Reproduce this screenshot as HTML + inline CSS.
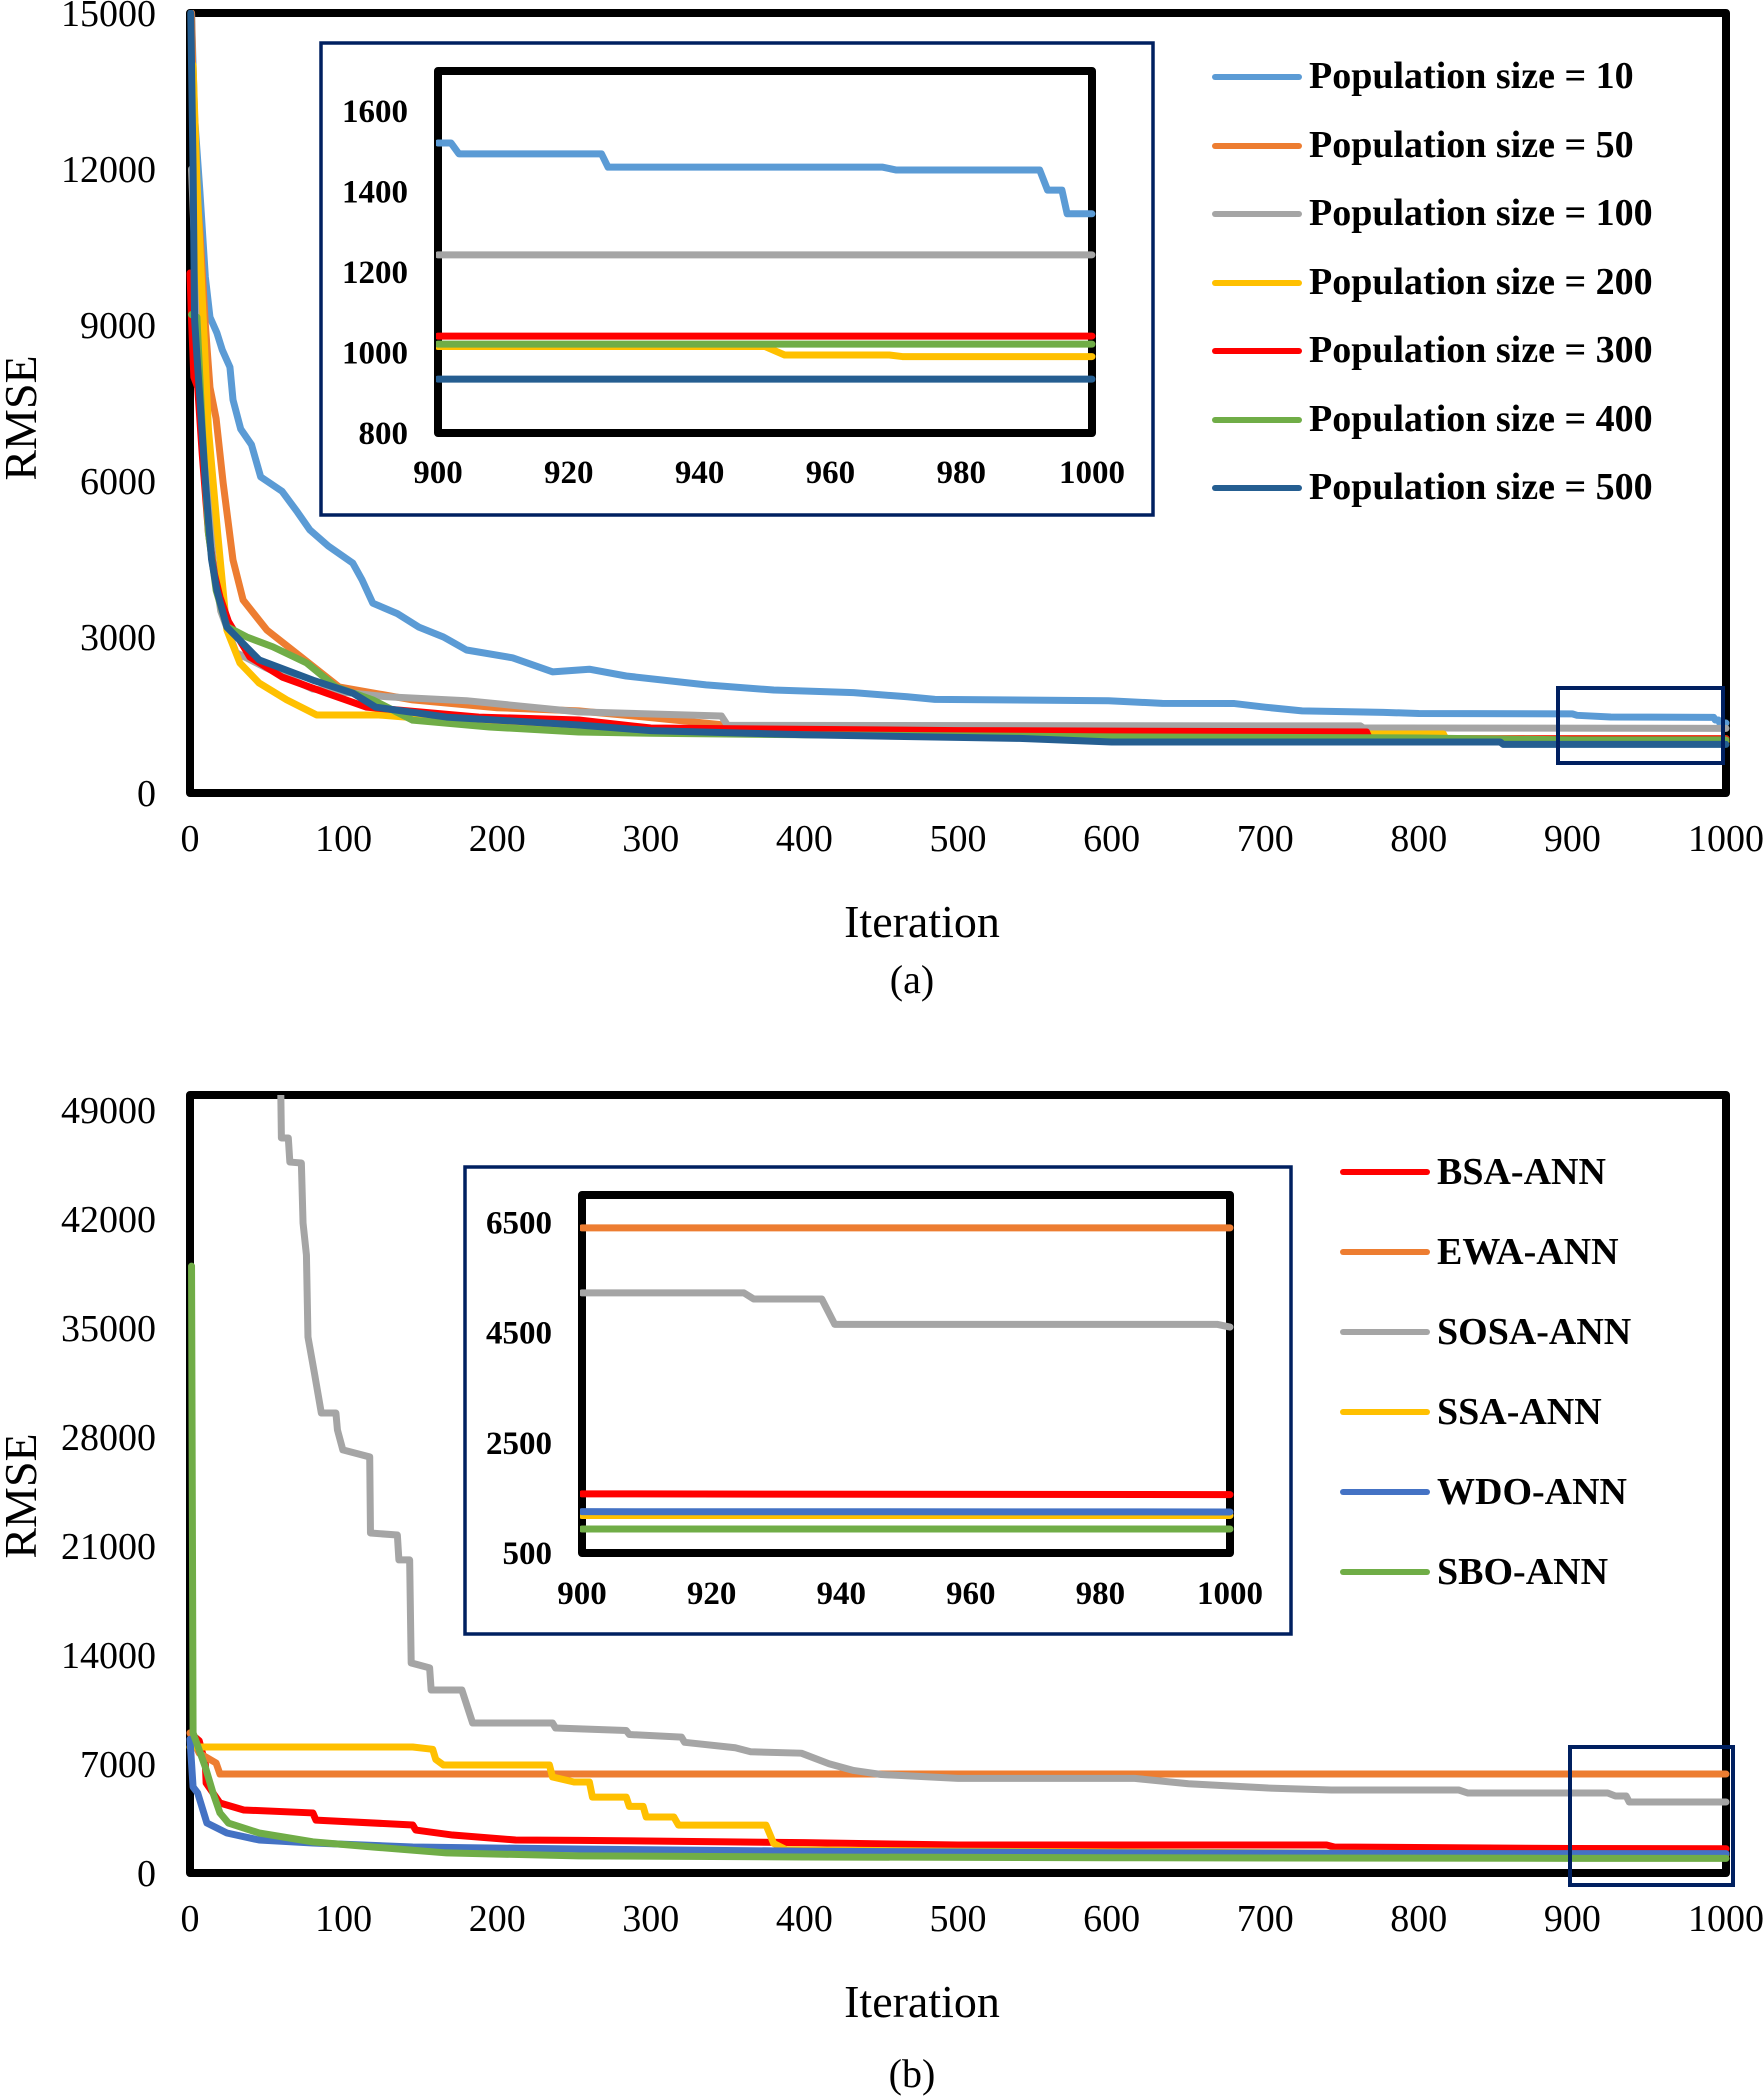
<!DOCTYPE html>
<html>
<head>
<meta charset="utf-8">
<style>
html,body{margin:0;padding:0;background:#fff;}
svg{display:block;}
text{font-family:"Liberation Serif","Times New Roman",serif;fill:#000;}
.tk{font-size:38px;}
.ib{font-size:33px;font-weight:bold;}
.lg{font-size:38px;font-weight:bold;}
.ax{font-size:46px;}
.cap{font-size:40px;}
.s{fill:none;stroke-width:7;stroke-linejoin:round;stroke-linecap:round;vector-effect:non-scaling-stroke;}
</style>
</head>
<body>
<svg width="1764" height="2096" viewBox="0 0 1764 2096" xmlns="http://www.w3.org/2000/svg">
<defs>
<clipPath id="ca"><rect x="186" y="10" width="1546" height="787"/></clipPath>
<clipPath id="cb"><rect x="186" y="1095" width="1546" height="782"/></clipPath>
<clipPath id="cia"><rect x="436" y="69" width="660" height="366"/></clipPath>
<clipPath id="cib"><rect x="580" y="1193" width="654" height="362"/></clipPath>
</defs>
<rect width="1764" height="2096" fill="#fff"/>

<!-- ================= CHART (a) ================= -->
<rect x="190" y="13" width="1536" height="780" fill="none" stroke="#000" stroke-width="8" stroke-linejoin="round"/>

<g clip-path="url(#ca)">
<g transform="translate(190 793) scale(1.536 -0.052)">
<polyline class="s" stroke="#5B9BD5" points="1,15000 3,13000 6.5,11540 10,9920 13,9150 17.5,8850 21,8520 26,8190 28,7560 33,7000 40,6700 46,6080 50,6000 60,5800 70,5400 78,5060 90,4750 106,4420 112,4100 119,3650 135,3450 149,3190 165,3000 180,2750 210,2600 236,2330 260,2380 284,2250 336,2080 380,1980 432,1930 467,1850 485,1800 598,1775 633,1724 680,1720 700,1650 724,1580 777,1550 800,1530 900,1521 903,1494 925,1461 992,1454 993,1404 995,1404 996,1345 1000,1345"/>
<polyline class="s" stroke="#ED7D31" points="1,15000 3,12200 6.5,10770 10,9000 13,7800 17,7200 21.6,5960 28,4480 34.6,3710 50,3135 73,2600 97,2040 145,1790 200,1640 253,1580 300,1450 350,1300 500,1200 700,1100 780,1045 1000,1045"/>
<polyline class="s" stroke="#A5A5A5" points="1,12000 5,9000 10,6500 15,4500 20,3500 30,2700 50,2400 80,2000 128,1850 180,1775 253,1560 346,1480 350,1300 762,1290 764,1250 1000,1243"/>
<polyline class="s" stroke="#FFC000" points="2,14000 4.5,11790 8,9500 12,7000 18,5000 24,3135 32.5,2500 45,2115 63,1790 82.5,1500 123,1500 188,1346 253,1270 300,1210 400,1160 600,1140 816,1135 818,1015 950,1015 952,994 970,994 972,990 1000,990"/>
<polyline class="s" stroke="#FF0000" points="0,10000 1,9100 2.5,8000 5,7800 8,6500 12,5000 16,4200 19.5,3770 25,3300 39,2615 60,2230 89,1920 115,1650 188,1460 253,1404 300,1250 500,1200 766,1173 768,1041 1000,1041"/>
<polyline class="s" stroke="#70AD47" points="1,9200 4.5,9150 8,7000 12,5000 17,3900 24,3200 37,3000 54,2810 76,2500 95,2040 119,1790 145,1400 195,1270 253,1173 300,1150 400,1120 600,1080 800,1058 900,1021 1000,1021"/>
<polyline class="s" stroke="#255E91" points="0.5,15000 2,12000 3,9100 5,8190 6.5,7560 10,6000 14,4500 17.5,3900 24,3190 45,2560 80,2170 106,1920 121,1650 167,1460 253,1308 300,1200 400,1120 540,1050 600,981 853,981 855,934 1000,934"/>
</g>
</g>

<rect x="1558" y="688" width="165" height="75" fill="none" stroke="#002060" stroke-width="4"/>

<!-- y ticks (a) -->
<g class="tk" text-anchor="end">
<text x="156" y="806">0</text>
<text x="156" y="650">3000</text>
<text x="156" y="494">6000</text>
<text x="156" y="338">9000</text>
<text x="156" y="182">12000</text>
<text x="156" y="26">15000</text>
</g>
<!-- x ticks (a) -->
<g class="tk" text-anchor="middle">
<text x="190" y="851">0</text>
<text x="343.6" y="851">100</text>
<text x="497.2" y="851">200</text>
<text x="650.8" y="851">300</text>
<text x="804.4" y="851">400</text>
<text x="958" y="851">500</text>
<text x="1111.6" y="851">600</text>
<text x="1265.2" y="851">700</text>
<text x="1418.8" y="851">800</text>
<text x="1572.4" y="851">900</text>
<text x="1726" y="851">1000</text>
</g>
<text class="ax" x="922" y="937" text-anchor="middle">Iteration</text>
<text class="cap" x="912" y="993" text-anchor="middle">(a)</text>
<text class="ax" transform="translate(36 418) rotate(-90)" text-anchor="middle">RMSE</text>

<!-- inset (a) -->
<rect x="321" y="43" width="832" height="472" fill="#fff" stroke="#002060" stroke-width="3.5"/>
<rect x="438" y="71" width="654" height="362" fill="none" stroke="#000" stroke-width="8" stroke-linejoin="round"/>
<g clip-path="url(#cia)">
<g transform="translate(-5448 754.76) scale(6.54 -0.4022)">
<polyline class="s" stroke="#5B9BD5" points="900,1521 902,1521 903.2,1494 925,1494 926,1461 968,1461 970,1454 992,1454 993.2,1404 995.4,1404 996.2,1345 1000,1345"/>
<polyline class="s" stroke="#A5A5A5" points="900,1243 1000,1243"/>
<polyline class="s" stroke="#FFC000" points="900,1015 950,1015 953,994 969,994 971,990 1000,990"/>
<polyline class="s" stroke="#FF0000" points="900,1041 1000,1041"/>
<polyline class="s" stroke="#70AD47" points="900,1021 1000,1021"/>
<polyline class="s" stroke="#255E91" points="900,934 1000,934"/>
</g>
</g>
<g class="ib" text-anchor="end">
<text x="408" y="444">800</text>
<text x="408" y="363.6">1000</text>
<text x="408" y="283.1">1200</text>
<text x="408" y="202.7">1400</text>
<text x="408" y="122.2">1600</text>
</g>
<g class="ib" text-anchor="middle">
<text x="438" y="483">900</text>
<text x="568.8" y="483">920</text>
<text x="699.6" y="483">940</text>
<text x="830.4" y="483">960</text>
<text x="961.2" y="483">980</text>
<text x="1092" y="483">1000</text>
</g>

<!-- legend (a) -->
<g stroke-width="6" stroke-linecap="round">
<line x1="1215" y1="77" x2="1299" y2="77" stroke="#5B9BD5"/>
<line x1="1215" y1="146" x2="1299" y2="146" stroke="#ED7D31"/>
<line x1="1215" y1="214" x2="1299" y2="214" stroke="#A5A5A5"/>
<line x1="1215" y1="283" x2="1299" y2="283" stroke="#FFC000"/>
<line x1="1215" y1="351" x2="1299" y2="351" stroke="#FF0000"/>
<line x1="1215" y1="420" x2="1299" y2="420" stroke="#70AD47"/>
<line x1="1215" y1="488" x2="1299" y2="488" stroke="#255E91"/>
</g>
<g class="lg">
<text x="1309" y="88">Population size = 10</text>
<text x="1309" y="157">Population size = 50</text>
<text x="1309" y="225">Population size = 100</text>
<text x="1309" y="294">Population size = 200</text>
<text x="1309" y="362">Population size = 300</text>
<text x="1309" y="431">Population size = 400</text>
<text x="1309" y="499">Population size = 500</text>
</g>

<!-- ================= CHART (b) ================= -->
<rect x="190" y="1095" width="1536" height="778" fill="none" stroke="#000" stroke-width="8" stroke-linejoin="round"/>

<g clip-path="url(#cb)">
<g transform="translate(190 1873) scale(1.536 -0.01556)">
<polyline class="s" stroke="#FF0000" points="0,9000 6,8500 10,7000 10.5,5780 19.5,4500 35,4050 80,3860 82,3400 145,3085 147,2760 171,2440 212,2120 253,2100 400,1950 500,1800 740,1800 745,1670 900,1573 1000,1560"/>
<polyline class="s" stroke="#ED7D31" points="0,9000 6,7700 17,7070 19.5,6360 1000,6360"/>
<polyline class="s" stroke="#A5A5A5" points="59,51000 59.5,47240 64,47240 65,45690 72.5,45630 73.6,41770 75.8,39720 76.8,34450 81,32130 85.5,29560 95,29560 96,28470 99.5,27190 117,26740 117.5,21850 135,21720 136,20120 143,20120 144,13500 156,13180 157,11760 177,11760 184,9640 236,9640 238,9320 284,9160 286,8900 320,8730 322,8400 355,8050 365,7790 398,7700 416,7020 432,6590 450,6330 500,6080 615,6080 650,5735 702,5460 743,5334 826,5334 832,5140 923,5140 928,4950 935,4950 937,4563 1000,4563"/>
<polyline class="s" stroke="#FFC000" points="0,8100 145,8100 158,7950 160,7300 165,6940 234,6940 236,6170 250,5850 260,5850 262,4880 284,4880 286,4280 295,4280 297,3600 315,3600 318,3080 375,3080 380,1900 388,1500 500,1400 700,1300 900,1200 1000,1190"/>
<polyline class="s" stroke="#4472C4" points="0,8600 2,5530 5,5140 11,3210 24,2570 45,2120 80,1930 145,1670 253,1540 400,1400 600,1300 800,1250 1000,1245"/>
<polyline class="s" stroke="#70AD47" points="1,39000 2,9000 10,6800 15,5140 19.5,3860 25,3210 45,2570 80,2000 119,1670 167,1290 253,1100 400,1030 600,980 900,940 1000,936"/>
</g>
</g>

<rect x="1570" y="1747" width="163" height="138" fill="none" stroke="#002060" stroke-width="4"/>

<g class="tk" text-anchor="end">
<text x="156" y="1886">0</text>
<text x="156" y="1777">7000</text>
<text x="156" y="1668">14000</text>
<text x="156" y="1559">21000</text>
<text x="156" y="1450">28000</text>
<text x="156" y="1341">35000</text>
<text x="156" y="1232">42000</text>
<text x="156" y="1123">49000</text>
</g>
<g class="tk" text-anchor="middle">
<text x="190" y="1931">0</text>
<text x="343.6" y="1931">100</text>
<text x="497.2" y="1931">200</text>
<text x="650.8" y="1931">300</text>
<text x="804.4" y="1931">400</text>
<text x="958" y="1931">500</text>
<text x="1111.6" y="1931">600</text>
<text x="1265.2" y="1931">700</text>
<text x="1418.8" y="1931">800</text>
<text x="1572.4" y="1931">900</text>
<text x="1726" y="1931">1000</text>
</g>
<text class="ax" x="922" y="2017" text-anchor="middle">Iteration</text>
<text class="cap" x="912" y="2087" text-anchor="middle">(b)</text>
<text class="ax" transform="translate(36 1496) rotate(-90)" text-anchor="middle">RMSE</text>

<!-- inset (b) -->
<rect x="465" y="1167" width="826" height="467" fill="#fff" stroke="#002060" stroke-width="3.5"/>
<rect x="582" y="1195" width="648" height="358" fill="none" stroke="#000" stroke-width="8" stroke-linejoin="round"/>
<g clip-path="url(#cib)">
<g transform="translate(-5250 1580.55) scale(6.48 -0.0551)">
<polyline class="s" stroke="#FF0000" points="900,1573 1000,1560"/>
<polyline class="s" stroke="#ED7D31" points="900,6400 1000,6400"/>
<polyline class="s" stroke="#A5A5A5" points="900,5220 925,5220 926.5,5110 937,5110 939,4650 998,4650 1000,4600"/>
<polyline class="s" stroke="#FFC000" points="900,1180 1000,1180"/>
<polyline class="s" stroke="#4472C4" points="900,1250 1000,1245"/>
<polyline class="s" stroke="#70AD47" points="900,936 1000,936"/>
</g>
</g>
<g class="ib" text-anchor="end">
<text x="552" y="1564">500</text>
<text x="552" y="1453.8">2500</text>
<text x="552" y="1343.6">4500</text>
<text x="552" y="1233.4">6500</text>
</g>
<g class="ib" text-anchor="middle">
<text x="582" y="1604">900</text>
<text x="711.6" y="1604">920</text>
<text x="841.2" y="1604">940</text>
<text x="970.8" y="1604">960</text>
<text x="1100.4" y="1604">980</text>
<text x="1230" y="1604">1000</text>
</g>

<!-- legend (b) -->
<g stroke-width="6" stroke-linecap="round">
<line x1="1343" y1="1172" x2="1427" y2="1172" stroke="#FF0000"/>
<line x1="1343" y1="1252" x2="1427" y2="1252" stroke="#ED7D31"/>
<line x1="1343" y1="1332" x2="1427" y2="1332" stroke="#A5A5A5"/>
<line x1="1343" y1="1412" x2="1427" y2="1412" stroke="#FFC000"/>
<line x1="1343" y1="1492" x2="1427" y2="1492" stroke="#4472C4"/>
<line x1="1343" y1="1572" x2="1427" y2="1572" stroke="#70AD47"/>
</g>
<g class="lg">
<text x="1437" y="1184">BSA-ANN</text>
<text x="1437" y="1264">EWA-ANN</text>
<text x="1437" y="1344">SOSA-ANN</text>
<text x="1437" y="1424">SSA-ANN</text>
<text x="1437" y="1504">WDO-ANN</text>
<text x="1437" y="1584">SBO-ANN</text>
</g>
</svg>
</body>
</html>
